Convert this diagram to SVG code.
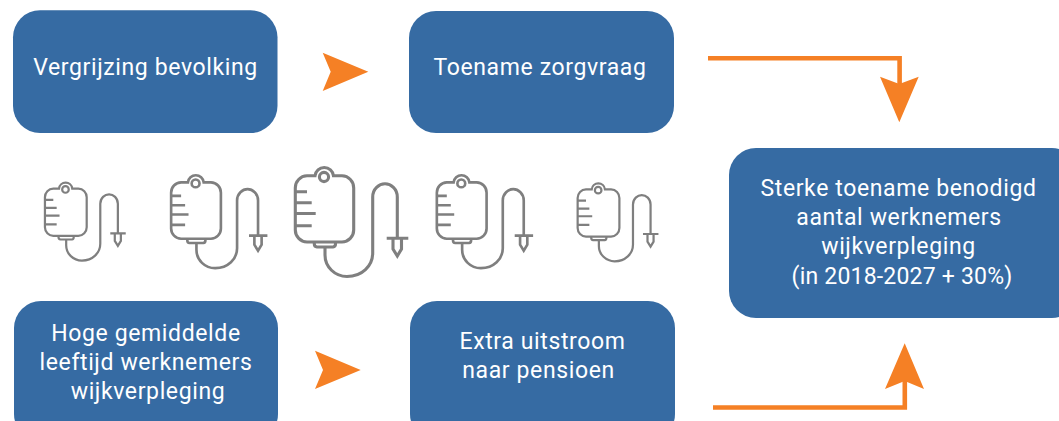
<svg xmlns="http://www.w3.org/2000/svg" xmlns:xlink="http://www.w3.org/1999/xlink" width="1059" height="421" viewBox="0 0 1059 421">
<style>
.box{fill:#366ba3}
.t{fill:#fff;font-family:"Roboto","Liberation Sans",sans-serif;font-size:23px;letter-spacing:.62px;text-anchor:middle}
.n{letter-spacing:.2px}
.o{fill:#f58025}
.l{fill:none;stroke:#f58025;stroke-width:4.6}
.i{fill:none;stroke:#7f7f7f;stroke-width:3.1}
</style>
<defs>
<g id="iv">
<path d="M35 15.8H27A12 12 0 0 0 15.3 28V70A12 12 0 0 0 27 82H62A12 12 0 0 0 73.7 70V28A12 12 0 0 0 62 15.8H53.5A9.300 9.300 0 0 0 35 15.8Z"/>
<circle cx="44" cy="17" r="4.6"/>
<path d="M15.3 31.7H27M15.3 42.7H31.7M15.3 53.5H35.7M15.3 65.7H31.7"/>
<path d="M34.3 82.500V84A3 3 0 0 0 37 87H53A3 3 0 0 0 55.500 84V82.500"/>
<path d="M45 87V95C45 107 55 116.500 67 116.500C82 116.500 92.700 106 92.700 93V37C92.700 29 99 23.800 105 23.800C111 23.800 117.300 29 117.300 37V78"/>
<path d="M106.700 78.300H128.300M113 78.300V89L117.300 96L121.500 89V78.300"/>
</g>
</defs>
<g id="connectors">
<path class="l" d="M708 58.200H899.600V85"/>
<path class="o" d="M880 76.700L899.300 84L918.700 76.700L899.300 122.300Z"/>
<path class="l" d="M713 407.500H904.800V380"/>
<path class="o" d="M885 389L904.700 381L924 389L904.700 343.300Z"/>
<path class="o" d="M322.700 52.700L368.300 71.800L322.700 91L330.700 71.800Z"/>
<path class="o" d="M315 350.700L360.700 370L315 389L323 370Z"/>
</g>
<g id="n1"><rect class="box" x="13" y="10.300" width="264.500" height="122.700" rx="27"/><text class="t" x="145.500" y="75">Vergrijzing bevolking</text></g>
<g id="n2"><rect class="box" x="409" y="11" width="265" height="122" rx="27"/><text class="t" x="540" y="75">Toename zorgvraag</text></g>
<g id="n3"><rect class="box" x="14" y="301" width="264" height="140" rx="27"/><text class="t" x="146" y="340.500">Hoge gemiddelde</text><text class="t" x="146" y="370">leeftijd werknemers</text><text class="t" x="148" y="398.500">wijkverpleging</text></g>
<g id="n4"><rect class="box" x="410" y="301" width="265" height="140" rx="27"/><text class="t" x="542.500" y="348.500">Extra uitstroom</text><text class="t" x="538.500" y="378">naar pensioen</text></g>
<g id="n5"><rect class="box" x="729" y="148" width="350" height="170" rx="27"/><text class="t" x="898.500" y="196">Sterke toename benodigd</text><text class="t" x="899" y="225">aantal werknemers</text><text class="t" x="898.500" y="253.500">wijkverpleging</text><text class="t n" x="902" y="283.500">(in 2018-2027 + 30%)</text></g>
<g id="icon1" class="i"><use href="#iv" transform="translate(34 177.300) scale(.715)"/></g>
<g id="icon2" class="i"><use href="#iv" transform="translate(158.100 168.900) scale(.852)"/></g>
<g id="icon3" class="i"><use href="#iv" transform="translate(280 160)"/></g>
<g id="icon4" class="i"><use href="#iv" transform="translate(423.800 168.900) scale(.852)"/></g>
<g id="icon5" class="i"><use href="#iv" transform="translate(566.700 178) scale(.715)"/></g>
</svg>
